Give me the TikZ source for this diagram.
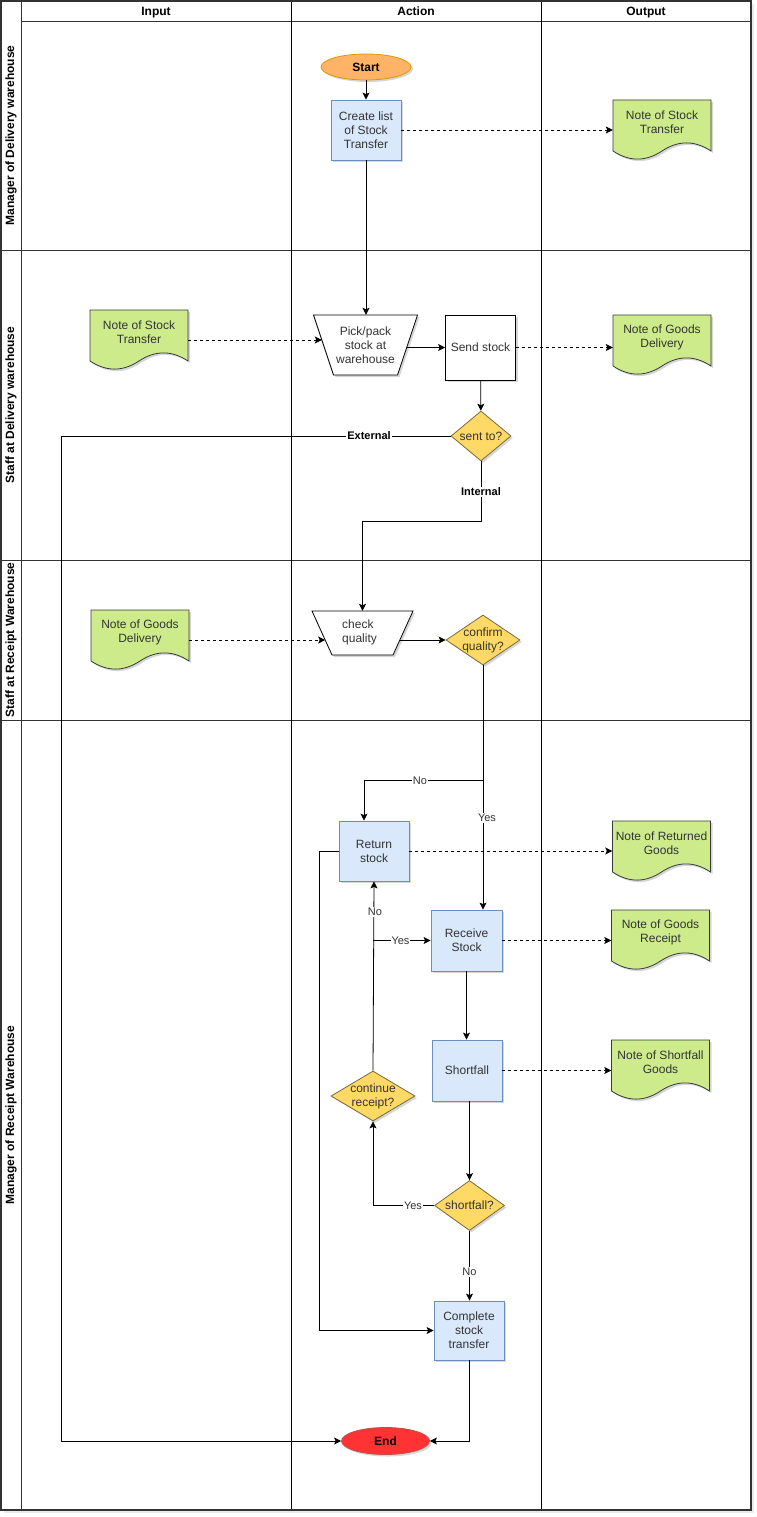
\documentclass[tikz,border=0pt]{standalone}
\usepackage{fontspec}
\setmainfont{Liberation Sans}
\usetikzlibrary{shapes.geometric,arrows.meta,shadows,calc}
\definecolor{bluef}{HTML}{DAE8FC}
\definecolor{blued}{HTML}{6C8EBF}
\definecolor{greenf}{HTML}{CDEB8B}
\definecolor{greend}{HTML}{36393D}
\definecolor{yelf}{HTML}{FFD966}
\definecolor{yeld}{HTML}{7A6A3A}
\definecolor{orf}{HTML}{FFB366}
\definecolor{ord}{HTML}{D79B00}
\definecolor{redf}{HTML}{FF3333}
\definecolor{redd}{HTML}{B85450}
\definecolor{txtc}{HTML}{333333}
\definecolor{lanec}{HTML}{333333}
\tikzset{
  base/.style={font=\fontsize{12}{14}\selectfont, align=center, text=txtc, inner sep=0pt},
  sh/.style={drop shadow={shadow xshift=2pt,shadow yshift=-2pt,opacity=0.16,fill=black}},
  proc/.style={base, rectangle, draw=blued, fill=bluef, line width=0.8pt, sh, minimum width=70pt, minimum height=60pt},
  wbox/.style={base, rectangle, draw=black, fill=white, line width=0.8pt, sh},
  trapshape/.style={draw=black, fill=white, line width=0.8pt, sh},
  dia/.style={base, diamond, draw=yeld, fill=yelf, line width=0.8pt, sh},
  term/.style={base, ellipse, line width=0.8pt, sh, text=black, font=\fontsize{12}{14}\selectfont\bfseries},
  docshape/.style={fill=greenf, draw=greend, line width=0.8pt, sh},
  docbox/.style={rectangle, minimum width=98pt, minimum height=60pt, inner sep=0pt},
  doctext/.style={base},
  arr/.style={draw=black, line width=0.8pt, -{Stealth[length=7pt,width=7pt,inset=1.5pt]}},
  dsh/.style={dash pattern=on 3pt off 3pt},
  elab/.style={fill=white, inner sep=1pt, font=\fontsize{11}{13}\selectfont, text=txtc},
  blab/.style={fill=white, inner sep=1pt, font=\fontsize{11}{13}\selectfont\bfseries, text=black},
  head/.style={font=\fontsize{12}{14}\selectfont\bfseries, inner sep=0pt, anchor=base},
  lanelab/.style={font=\fontsize{12}{14}\selectfont\bfseries, inner sep=0pt, rotate=90},
  lanel/.style={draw=lanec, line width=0.9pt},
}
\newcommand\docnote[4]{%
  \path[docshape] (#2-49,#3-30) -- (#2+49,#3-30) -- (#2+49,#3+21)
    .. controls (#2+32.7,#3+10.2) and (#2+16.3,#3+10.2) .. (#2,#3+21)
    .. controls (#2-16.3,#3+31.8) and (#2-32.7,#3+31.8) .. (#2-49,#3+21) -- cycle;
  \node[docbox] (#1) at (#2,#3) {};
  \node[doctext] (#1t) at (#2,#3-8) {#4};
}
\begin{document}
\begin{tikzpicture}[x=1pt,y=-1pt]
\useasboundingbox (0,0) rectangle (757,1517);
\fill[white] (0,0) rectangle (757,1517);
% frame and lanes
\fill[black,opacity=0.08] (4,4) rectangle (754,1513);
\fill[white] (1,1) rectangle (751,1510);
\draw[lanel] (1,250) -- (751,250);
\draw[lanel] (1,560) -- (751,560);
\draw[lanel] (1,720) -- (751,720);
\draw[lanel] (21,21) -- (751,21);
\draw[lanel] (21,1) -- (21,1510);
\draw[line width=0.9pt] (291,1) -- (291,1510);
\draw[line width=0.9pt] (541,1) -- (541,1510);
\draw[line width=1.1pt, draw=lanec] (1,1) rectangle (751,1510);
\node[head] (hin) at (156,15.5) {Input};
\node[head] (hact) at (416,15.5) {Action};
\node[head] (hout) at (646,15.5) {Output};
\node[lanelab] (l1) at (11,135.5) {Manager of Delivery warehouse};
\node[lanelab] (l2) at (11,405) {Staff at Delivery warehouse};
\node[lanelab] (l3) at (11,640) {Staff at Receipt Warehouse};
\node[lanelab] (l4) at (11,1115) {Manager of Receipt Warehouse};

% nodes
\node[term, draw=ord, fill=orf, minimum width=90pt, minimum height=26pt] (start) at (366,67) {Start};
\node[proc] (create) at (366,130) {Create list\\of Stock\\Transfer};
\docnote{nsto}{662}{130}{Note of Stock\\Transfer}
\docnote{nsti}{139}{340}{Note of Stock\\Transfer}
% pick/pack trapezoid (manual operation)
\path[trapshape] (313.5,315) -- (417.5,315) -- (397.5,375) -- (333.5,375) -- cycle;
\node[base, minimum width=104pt, minimum height=60pt] (pick) at (365.5,345) {Pick/pack\\stock at\\warehouse};
\coordinate (pickL) at (321.8,340);
\coordinate (pickR) at (406.7,347.5);
\node[wbox, minimum width=70pt, minimum height=65pt] (send) at (480.5,347.5) {Send stock};
\docnote{ngdo}{662}{345}{Note of Goods\\Delivery}
\node[dia, minimum width=60pt, minimum height=50pt, label={[base,name=sentt]center:sent to?}] (sent) at (481,436) {};
\docnote{ngdi}{140}{640}{Note of Goods\\Delivery}
% check quality trapezoid
\path[trapshape] (312,611) -- (413,611) -- (393,655) -- (332,655) -- cycle;
\node[base, align=left] (checkt) at (359.5,632) {check\\quality};
\node[minimum width=101pt, minimum height=44pt, inner sep=0pt] (check) at (362.5,633) {};
\coordinate (checkL) at (325.2,640);
\coordinate (checkR) at (399.8,640);
\node[dia, minimum width=74pt, minimum height=50pt, label={[base,name=conft]center:confirm\\quality?}] (conf) at (483,640) {};
\node[proc] (ret) at (374,851) {Return\\stock};
\docnote{nrg}{661.5}{851}{Note of Returned\\Goods}
\node[proc, minimum width=71pt, minimum height=61pt] (recv) at (466.5,940.5) {Receive\\Stock};
\docnote{ngr}{660.5}{940}{Note of Goods\\Receipt}
\node[proc, minimum height=61pt] (short) at (467,1070.5) {Shortfall};
\docnote{nsg}{660.5}{1070}{Note of Shortfall\\Goods}
\node[dia, minimum width=84pt, minimum height=50pt, label={[base,name=contt]center:continue\\receipt?}] (cont) at (373,1096) {};
\node[dia, minimum width=70pt, minimum height=50pt, label={[base,name=sfqt]center:shortfall?}] (sfq) at (469.5,1205.5) {};
\node[proc, minimum height=59pt] (comp) at (469,1330.5) {Complete\\stock\\transfer};
\node[term, draw=redd, fill=redf, minimum width=88pt, minimum height=27pt] (end) at (385.5,1441) {End};

% connectors
\draw[arr] (start) -- (create);
\draw[arr] (create.south) -- (create.south |- pick.north);
\draw[arr,dsh] (create.east) -- (create.east -| nsto.west);
\draw[arr,dsh] (nsti.east) -- (pickL);
\draw[arr] (pickR) -- (send.west);
\draw[arr,dsh] (send.east) -- (send.east -| ngdo.west);
\draw[arr] (send) -- (sent);
\coordinate (extc) at (61,1441);
\draw[arr] (sent.west) -| (extc) -- (end.west);
\draw[arr] (sent.south) -- ++(0,60) -| (check.north);
\draw[arr,dsh] (ngdi.east) -- (checkL);
\draw[arr] (checkR) -- (conf.west);
\draw[arr] (conf.south) -- (conf.south |- recv.north);
\coordinate (nosp) at (483,780);
\draw[arr] (nosp) -| ([xshift=-10pt]ret.north);
\draw[arr,dsh] (ret.east) -- (ret.east -| nrg.west);
\draw[arr] (ret.west) -- ++(-19,0) |- (comp.west);
\draw[arr,dsh] (recv.east) -- (recv.east -| ngr.west);
\draw[arr] (recv.south) -- (recv.south |- short.north);
\draw[arr,dsh] (short.east) -- (short.east -| nsg.west);
\draw[arr] (sfq.north |- short.south) -- (sfq.north);
\draw[arr] (sfq.west) -| (cont.south);
\draw[arr] (cont.north) -- (ret.south);
\draw[arr] (cont.north |- recv.west) -- (recv.west);
\draw[arr] (sfq.south) -- (sfq.south |- comp.north);
\draw[arr] (comp.south) |- (end.east);

% edge labels
\node[blab] (lext) at (369,436) {External};
\node[blab] (lint) at (481,492) {Internal};
\node[elab] (lno1) at (420,781) {No};
\node[elab] (lyes1) at (487,818) {Yes};
\node[elab] (lno2) at (375,912) {No};
\node[elab] (lyes2) at (400.5,941) {Yes};
\node[elab] (lyes3) at (413,1206) {Yes};
\node[elab] (lno3) at (469.5,1272) {No};
\end{tikzpicture}
\end{document}
